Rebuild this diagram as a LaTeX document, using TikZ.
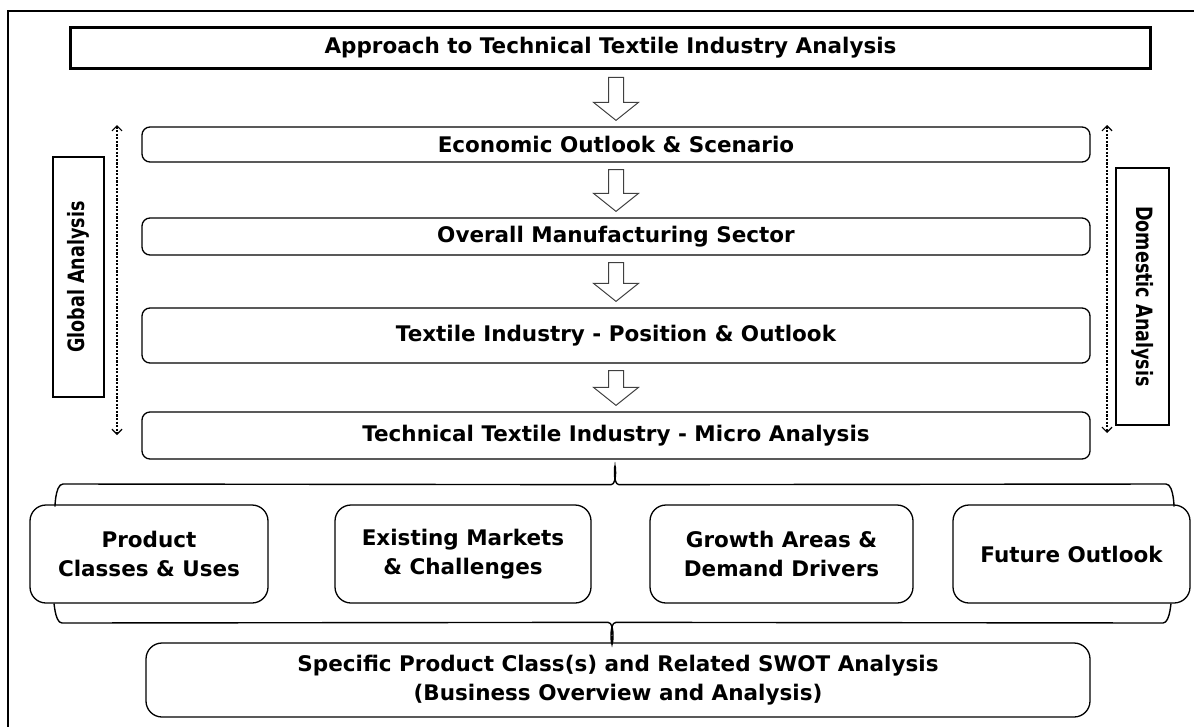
\documentclass[tikz,border=0pt]{standalone}
\usepackage{fontspec}
\setmainfont{DejaVu Sans}
\usetikzlibrary{arrows.meta,calc}
\newcommand{\hollowarrow}[2]{%
  \draw[hollow] let \p1=(#2.north), \p2=(#1.south) in
    (\x1-7.5pt,\y2-7pt) -- (\x1-7.5pt,\y1+24pt) -- (\x1-22.5pt,\y1+24pt) -- (\x1,\y1+6pt)
    -- (\x1+22.5pt,\y1+24pt) -- (\x1+7.5pt,\y1+24pt) -- (\x1+7.5pt,\y2-7pt) -- cycle;}
\begin{document}
\begin{tikzpicture}[x=1pt,y=-1pt,
    font=\bfseries\fontsize{21.5}{29}\selectfont,
    base/.style={draw,inner sep=0pt,align=center,line width=1.3pt},
    headbox/.style={base,line width=3.5pt,minimum width=1080pt,minimum height=41pt},
    bar/.style={base,rounded corners=8pt,minimum width=948pt},
    card/.style={base,rounded corners=16pt,minimum height=98pt},
    side/.style={base,line width=1.1pt,font=\bfseries\fontsize{22.5}{24}\selectfont\addfontfeature{FakeStretch=0.78}},
    dashline/.style={dash pattern=on 2.2pt off 1.4pt,line width=1.2pt,{Straight Barb[length=5pt,width=10pt]}-{Straight Barb[length=5pt,width=10pt]}},
    hollow/.style={draw=black!75,line width=1pt,fill=white,line join=miter},
    brace/.style={line width=1.4pt,line cap=round}]
  \useasboundingbox (0,0) rectangle (1194,726);
  \clip (0,0) rectangle (1194,726);
  \draw[line width=1.5pt] (8,11) rectangle (1210,740);

  \node[headbox] (app) at (610.5,48) {Approach to Technical Textile Industry Analysis};
  \node[bar,minimum height=35pt] (eco) at (616,144.5) {Economic Outlook \& Scenario};
  \node[bar,minimum height=37pt] (mfg) at (616,236.5) {Overall Manufacturing Sector};
  \node[bar,minimum height=55pt] (tex) at (616,335.5) {Textile Industry - Position \& Outlook};
  \node[bar,minimum height=47pt] (tti) at (616,435.5) {Technical Textile Industry - Micro Analysis};

  \hollowarrow{app}{eco}
  \hollowarrow{eco}{mfg}
  \hollowarrow{mfg}{tex}
  \hollowarrow{tex}{tti}

  \node[side,rotate=90,minimum width=240pt,minimum height=51pt] (glob) at (78.5,277) {Global Analysis};
  \node[side,rotate=-90,minimum width=257pt,minimum height=53pt] (dom) at (1142.5,296.5) {Domestic Analysis};
  \coordinate (gtop) at (117,125);
  \coordinate (gbot) at (117,435);
  \coordinate (dtop) at (1107,125);
  \coordinate (dbot) at (1107,433);
  \draw[dashline] (gtop) -- (gbot);
  \draw[dashline] (dtop) -- (dbot);

  \node[card,minimum width=238pt] (prod) at (149,554) {Product\\Classes \& Uses};
  \node[card,minimum width=256pt] (mkt) at (463,554) {Existing Markets\\\& Challenges};
  \node[card,minimum width=263pt] (grow) at (781.5,554) {Growth Areas \&\\Demand Drivers};
  \node[card,minimum width=237pt] (fut) at (1071.5,554) {Future Outlook};
  \node[card,minimum width=944pt,minimum height=74pt] (swot) at (618,680)
    {Specific Product Class(s) and Related SWOT Analysis\\(Business Overview and Analysis)};

  \coordinate (ttip) at ($(tti.south)+(-1,8)$);
  \coordinate (tl) at (55,505);
  \coordinate (tr) at (1174,505);
  \draw[brace] (tl) to[out=-90,in=180] (63,484) -- ($(ttip)+(-4,17)$)
    to[out=0,in=90] (ttip) to[out=90,in=180] ($(ttip)+(4,17)$) -- (1166,484) to[out=0,in=-90] (tr);
  \coordinate (btip) at (swot.north -| 612,0);
  \coordinate (bl) at (54,605);
  \coordinate (br) at (1171,605);
  \draw[brace] (bl) to[out=90,in=180] (62,623) -- ($(btip)+(-4,-20)$)
    to[out=0,in=-90] (btip) to[out=-90,in=180] ($(btip)+(4,-20)$) -- (1163,623) to[out=0,in=90] (br);
\end{tikzpicture}
\end{document}
